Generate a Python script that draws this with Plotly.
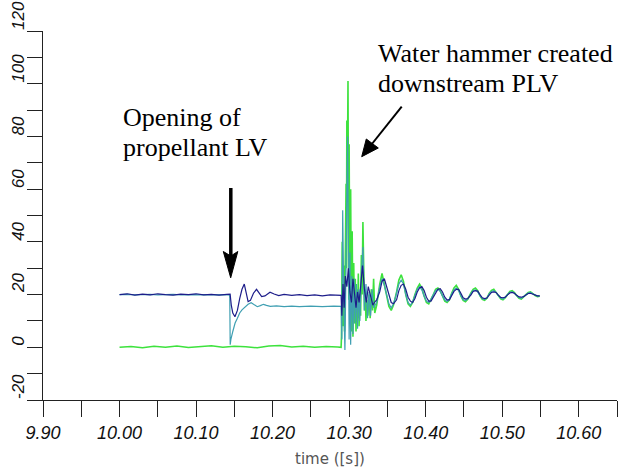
import plotly.graph_objects as go

# ---------------- data ----------------
# early part of the dark-blue trace
navy_t_early = [10.000, 10.010, 10.020, 10.030, 10.040, 10.050, 10.060, 10.070, 10.080, 10.090,
                10.100, 10.110, 10.120, 10.130, 10.140, 10.1445, 10.1460, 10.1480, 10.1508, 10.1540,
                10.1570, 10.1600, 10.1630, 10.1660, 10.1680, 10.1710, 10.1750, 10.1790, 10.1825, 10.1857,
                10.1900, 10.1966, 10.2020, 10.2080, 10.2150, 10.2250, 10.2350, 10.2450, 10.2550, 10.2650,
                10.2750, 10.2850, 10.2895,
                10.2905, 10.2920, 10.2935, 10.2950, 10.2970, 10.2990, 10.3010, 10.3030, 10.3050, 10.3070,
                10.3090, 10.3110, 10.3130, 10.3150, 10.3175, 10.3200, 10.3225, 10.3250, 10.3280, 10.3310,
                10.3330]
navy_y_early = [20.0, 20.3, 19.8, 20.2, 19.9, 20.3, 20.0, 19.8, 20.2, 20.0,
                20.3, 19.9, 20.1, 19.8, 20.1, 20.2, 16.0, 13.0, 11.6, 14.0,
                18.5, 22.0, 24.0, 20.0, 17.3, 17.8, 20.5, 22.0, 20.5, 19.2,
                19.5, 20.9, 20.2, 19.6, 20.1, 19.7, 20.0, 19.6, 19.9, 19.5,
                19.9, 19.6, 19.7,
                12.0, 24.0, 15.0, 27.0, 23.0, 30.0, 21.0, 17.0, 26.0, 19.0,
                15.0, 21.0, 17.0, 23.0, 31.0, 22.0, 17.0, 23.0, 19.0, 16.0,
                17.0]

# early part of the teal trace
teal_t_early = [10.000, 10.010, 10.020, 10.030, 10.040, 10.050, 10.060, 10.070, 10.080, 10.090,
                10.100, 10.110, 10.120, 10.130, 10.140, 10.1440, 10.1446, 10.1455, 10.1480, 10.1510,
                10.1540, 10.1570, 10.1600, 10.1640, 10.1680, 10.1720, 10.1760, 10.1800, 10.1840, 10.1880,
                10.1920, 10.1970, 10.2050, 10.2150, 10.2250, 10.2350, 10.2500, 10.2650, 10.2800, 10.2895,
                10.2905, 10.2916, 10.2930, 10.2945, 10.2960, 10.2970, 10.2980, 10.2990, 10.3000, 10.3010,
                10.3020, 10.3035, 10.3050, 10.3065, 10.3080, 10.3095, 10.3110, 10.3125, 10.3140, 10.3160,
                10.3180, 10.3200, 10.3220, 10.3240, 10.3260, 10.3280, 10.3300, 10.3320]
teal_y_early = [20.0, 20.1, 19.9, 20.0, 20.1, 19.9, 20.0, 20.1, 19.9, 20.0,
                20.1, 20.0, 19.9, 20.0, 20.0, 19.8, 1.0, 3.0, 6.0, 9.2,
                11.0, 13.0, 14.2, 15.4, 16.3, 16.9, 16.3, 15.4, 15.8, 16.3,
                15.9, 15.5, 15.7, 15.4, 15.6, 15.4, 15.6, 15.4, 15.6, 15.5,
                3.0, 52.0, 18.0, -1.0, 32.0, 62.0, 80.0, 40.0, 3.0, 36.0,
                1.0, 27.0, 5.0, 26.0, 9.0, 24.0, 7.0, 22.0, 10.0, 28.0,
                38.0, 14.0, 24.0, 11.0, 21.0, 12.0, 22.0, 15.0]

# early part of the green trace
green_t_early = [10.000, 10.015, 10.030, 10.045, 10.060, 10.075, 10.090, 10.105, 10.120, 10.135,
                 10.150, 10.165, 10.180, 10.195, 10.210, 10.225, 10.240, 10.255, 10.270, 10.285,
                 10.2895, 10.2900, 10.2905, 10.2910, 10.2920, 10.2930, 10.2940, 10.2950, 10.2960, 10.2965,
                 10.2970, 10.2975, 10.2985, 10.2995, 10.3000, 10.3010, 10.3020, 10.3030, 10.3040, 10.3050,
                 10.3060, 10.3070, 10.3080, 10.3090, 10.3100, 10.3110, 10.3120, 10.3130, 10.3140, 10.3150,
                 10.3160, 10.3170, 10.3180, 10.3190, 10.3200, 10.3210, 10.3220, 10.3230, 10.3245, 10.3260,
                 10.3275, 10.3290, 10.3305, 10.3320, 10.3335]
green_y_early = [0.0, 0.3, -0.2, 0.4, 0.0, 0.5, -0.1, 0.3, 0.6, 0.0,
                 0.4, 0.2, -0.2, 0.5, 0.7, 0.1, 0.4, 0.0, 0.3, 0.1,
                 0.0, 4.0, 28.0, 40.0, 8.0, 31.0, 6.0, 38.0, 62.0, 30.0,
                 86.0, 55.0, 101.0, 18.0, 77.0, 10.0, 60.0, 6.0, 44.0, 4.0,
                 32.0, 9.0, 26.0, 6.0, 22.0, 11.0, 28.0, 8.0, 20.0, 12.0,
                 35.0, 20.0, 47.5, 28.0, 14.0, 22.0, 10.0, 18.0, 12.0, 20.0,
                 11.0, 22.0, 14.0, 26.0, 13.0]

# damped oscillation part shared time base
t_late = [10.336, 10.340, 10.343, 10.346, 10.349, 10.352, 10.355, 10.358, 10.362, 10.365,
          10.368, 10.371, 10.374, 10.377, 10.380, 10.383, 10.386, 10.389, 10.392, 10.395,
          10.398, 10.401, 10.404, 10.407, 10.410, 10.413, 10.416, 10.419, 10.422, 10.425,
          10.428, 10.431, 10.434, 10.437, 10.440, 10.443, 10.446, 10.449, 10.452, 10.455,
          10.459, 10.462, 10.465, 10.468, 10.471, 10.474, 10.477, 10.480, 10.483, 10.486,
          10.489, 10.492, 10.495, 10.498, 10.501, 10.504, 10.507, 10.510, 10.513, 10.516,
          10.519, 10.522, 10.525, 10.528, 10.531, 10.534, 10.537, 10.540, 10.543, 10.546,
          10.549]
green_late = [16, 24, 28, 24, 19, 15.5, 14, 16, 21, 25.5,
              27.5, 25, 20, 16.5, 15.5, 17, 20, 22.5, 24, 22.5,
              19.5, 17, 16.5, 18, 20, 22, 22.5, 21.5, 19.5, 17.5,
              17, 18, 20.5, 22.5, 23.5, 22, 19.5, 17.8, 17.3, 18.2,
              20.5, 22, 22.5, 21.5, 19.5, 18.2, 17.8, 18.6, 20.4, 21.6,
              22, 21, 19.6, 18.4, 18, 18.8, 20.2, 21.2, 21.5, 20.8,
              19.6, 18.6, 18.3, 19, 20, 20.8, 21, 20.4, 19.6, 19.2,
              19.4]
teal_late = [17, 23, 26, 23.5, 19.5, 16.5, 15, 16.5, 20.5, 24,
             25.5, 24, 20, 17, 16, 17.2, 19.8, 22, 23, 21.8,
             19.4, 17.5, 17, 18.2, 20, 21.5, 22, 21.2, 19.5, 18,
             17.4, 18.3, 20.3, 21.8, 22.5, 21.5, 19.6, 18.1, 17.7, 18.4,
             20.3, 21.5, 21.8, 21, 19.6, 18.5, 18.1, 18.8, 20.3, 21.2,
             21.5, 20.8, 19.6, 18.7, 18.3, 19, 20.1, 20.9, 21, 20.5,
             19.6, 18.9, 18.6, 19.1, 19.9, 20.6, 20.8, 20.3, 19.7, 19.4,
             19.5]
navy_late = [18, 21, 25, 26, 23, 19.5, 17, 16.5, 18, 21.5,
             23.5, 24, 22, 19, 17.5, 17, 18.5, 21, 22.5, 23,
             21.5, 19, 17.5, 17.5, 19, 21, 22, 22.2, 21, 19,
             18, 18, 19.5, 21.2, 22, 22, 20.5, 18.8, 18.3, 18.5,
             19.8, 21.2, 21.5, 21.3, 20, 18.8, 18.5, 18.7, 19.8, 20.8,
             21, 20.8, 19.8, 18.9, 18.8, 19, 19.9, 20.6, 20.8, 20.5,
             19.7, 19.1, 19, 19.2, 19.8, 20.4, 20.5, 20.2, 19.7, 19.5,
             19.5]

x_tick_labels = ["9.90", "10.00", "10.10", "10.20", "10.30", "10.40", "10.50", "10.60"]
x_tick_vals = [9.90, 10.00, 10.10, 10.20, 10.30, 10.40, 10.50, 10.60]
y_tick_vals = [-20, 0, 20, 40, 60, 80, 100, 120]
y_tick_labels = ["-20", "0", "20", "40", "60", "80", "100", "120"]

# ---------------- figure ----------------
NAVY = "#1d1d8a"
TEAL = "#3f9fb2"
GREEN = "#3de23d"

fig = go.Figure()
fig.add_trace(go.Scatter(x=green_t_early + t_late, y=green_y_early + green_late, mode="lines",
                         line=dict(color=GREEN, width=1.6), showlegend=False))
fig.add_trace(go.Scatter(x=teal_t_early + t_late, y=teal_y_early + teal_late, mode="lines",
                         line=dict(color=TEAL, width=1.2), showlegend=False))
fig.add_trace(go.Scatter(x=navy_t_early + t_late, y=navy_y_early + navy_late, mode="lines",
                         line=dict(color=NAVY, width=1.2), showlegend=False))

L, R, T, B = 43, 5, 31, 70
W, H = 622, 470
PW, PH = W - L - R, H - T - B


def P(px, py):
    return (px - L) / PW, (H - B - py) / PH


axis_col = "#222222"
fig.update_layout(
    width=W, height=H,
    margin=dict(l=L, r=R, t=T, b=B),
    paper_bgcolor="white", plot_bgcolor="white",
    xaxis=dict(range=[9.90, 10.65], tickmode="array", tickvals=x_tick_vals, ticktext=x_tick_labels,
               ticks="outside", ticklen=16, tickwidth=1, tickcolor=axis_col,
               showline=True, linecolor=axis_col, linewidth=1, showgrid=False, zeroline=False,
               minor=dict(ticks="outside", dtick=0.05, tick0=9.90, ticklen=16, tickwidth=1,
                          tickcolor=axis_col, showgrid=False),
               tickfont=dict(family="Liberation Sans, Arial", size=18, style="italic", color="#111")),
    yaxis=dict(range=[-20, 120], tickmode="array", tickvals=y_tick_vals, showticklabels=False,
               ticks="outside", ticklen=15, tickwidth=1, tickcolor=axis_col,
               showline=True, linecolor=axis_col, linewidth=1, showgrid=False, zeroline=False,
               minor=dict(ticks="outside", dtick=10, tick0=0, ticklen=15, tickwidth=1,
                          tickcolor=axis_col, showgrid=False)),
)

serif = dict(family="Liberation Serif, Times New Roman, serif", size=26, color="black")
anns = []
for text, (px, py) in [("Opening of", (121, 117)), ("propellant LV", (121, 147)),
                       ("Water hammer created", (376, 53)), ("downstream PLV", (376, 83))]:
    x, y = P(px, py)
    anns.append(dict(text=text, x=x, y=y, xref="paper", yref="paper", xanchor="left", yanchor="middle",
                     showarrow=False, font=serif))
x, y = P(330, 459)
anns.append(dict(text="time ([s])", x=x, y=y, xref="paper", yref="paper", xanchor="center", yanchor="middle",
                 showarrow=False, font=dict(family="DejaVu Sans, Liberation Sans", size=15, color="#555")))
# rotated y tick labels: text starts at the tick and reads upward
ylab_x = P(29.0, 0)[0]
for v, lab in zip(y_tick_vals, y_tick_labels):
    anns.append(dict(text=lab, x=ylab_x, y=v, xref="paper", yref="y", xanchor="right", yanchor="bottom",
                     textangle=-90, showarrow=False, borderpad=0,
                     font=dict(family="Liberation Sans, Arial", size=17, style="italic", color="#111")))
fig.update_layout(annotations=anns)


def path(points):
    s = ""
    for i, (px, py) in enumerate(points):
        x, y = P(px, py)
        s += ("M" if i == 0 else "L") + f"{x:.5f},{y:.5f} "
    return s + "Z"


shapes = []
# arrow 1 (vertical)
x0, y0 = P(230.8, 188)
x1, y1 = P(230.8, 258)
shapes.append(dict(type="line", xref="paper", yref="paper", x0=x0, y0=y0, x1=x1, y1=y1,
                   line=dict(color="black", width=3.5)))
shapes.append(dict(type="path", xref="paper", yref="paper",
                   path=path([(223.3, 251.5), (230.7, 277.8), (237.8, 251.5), (230.8, 256)]),
                   fillcolor="black", line=dict(color="black", width=1)))
# arrow 2 (diagonal)
x0, y0 = P(401.7, 106.7)
x1, y1 = P(369.5, 147)
shapes.append(dict(type="line", xref="paper", yref="paper", x0=x0, y0=y0, x1=x1, y1=y1,
                   line=dict(color="black", width=2)))
shapes.append(dict(type="path", xref="paper", yref="paper",
                   path=path([(366.3, 139.0), (361.7, 156.7), (378.3, 148.0)]),
                   fillcolor="black", line=dict(color="black", width=1)))
fig.update_layout(shapes=shapes)

fig.write_html("out.html")
